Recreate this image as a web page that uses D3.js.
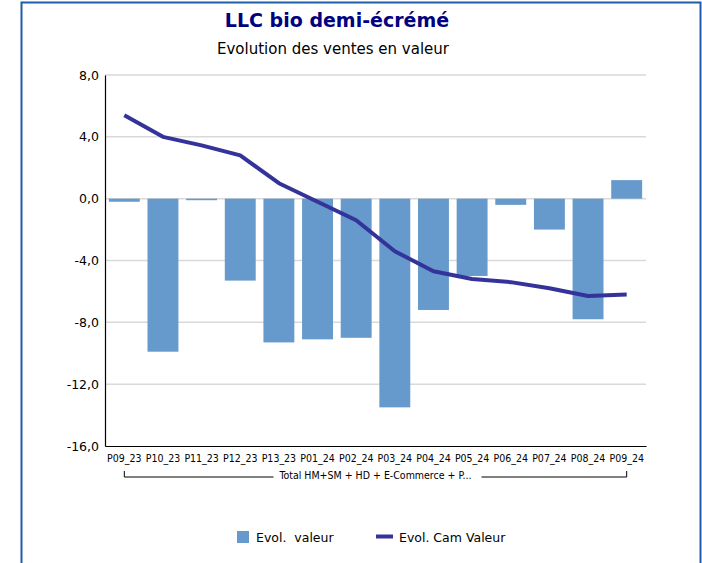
<!DOCTYPE html>
<html>
<head>
<meta charset="utf-8">
<script src="https://cdn.jsdelivr.net/npm/d3@7"></script>
<style>
  body { margin: 0; background: #fff; }
</style>
</head>
<body>
<div id="viz-container"></div>
<script>
// chart values
let periods = ["P09_23","P10_23","P11_23","P12_23","P13_23","P01_24","P02_24","P03_24","P04_24","P05_24","P06_24","P07_24","P08_24","P09_24"];
let evolValeur = [-0.2, -9.9, -0.1, -5.3, -9.3, -9.1, -9.0, -13.5, -7.2, -5.0, -0.4, -2.0, -7.8, 1.2];
let evolCam = [5.4, 4.0, 3.45, 2.8, 1.0, -0.2, -1.4, -3.4, -4.7, -5.2, -5.4, -5.8, -6.3, -6.2];
let yTicks = [8, 4, 0, -4, -8, -12, -16];
let groupLabel = "Total HM+SM + HD + E-Commerce + P...";
let titleText = "LLC bio demi-écrémé";
let subtitleText = "Evolution des ventes en valeur";
let seriesNames = ["Evol.  valeur", "Evol. Cam Valeur"];

let barColor = "#6699cc";
let lineColor = "#333399";
let font = "'DejaVu Sans', sans-serif";
let condFont = "'DejaVu Sans Condensed', 'DejaVu Sans', sans-serif";

let viz = d3.select("#viz-container")
  .append("svg")
    .attr("width", 702)
    .attr("height", 563);

// outer frame
viz.append("rect")
  .attr("x", 21.5)
  .attr("y", 2.5)
  .attr("width", 679)
  .attr("height", 620)
  .attr("fill", "none")
  .attr("stroke", "#1f5ca6")
  .attr("stroke-width", 2);

viz.append("text")
  .text(titleText)
  .attr("x", 337)
  .attr("y", 27)
  .attr("text-anchor", "middle")
  .attr("font-family", font)
  .attr("font-weight", "bold")
  .attr("font-size", 19)
  .attr("fill", "#000080");

viz.append("text")
  .text(subtitleText)
  .attr("x", 333)
  .attr("y", 54)
  .attr("text-anchor", "middle")
  .attr("font-family", font)
  .attr("font-size", 15)
  .attr("fill", "#000");

let x = d3.scaleBand()
  .domain(periods)
  .range([105, 646])
  .paddingInner(0.2)
  .paddingOuter(0.1);

let y = d3.scaleLinear()
  .domain([-16, 8])
  .range([446, 75]);

// gridlines
viz.selectAll(".grid").data(yTicks.filter(d => d != -16)).enter()
  .append("line")
    .attr("class", "grid")
    .attr("x1", 105)
    .attr("x2", 646)
    .attr("y1", d => y(d))
    .attr("y2", d => y(d))
    .attr("stroke", "#d9d9d9")
    .attr("stroke-width", 1.5);

// y axis
let yAxis = viz.append("g")
  .attr("transform", "translate(105,0)")
  .call(d3.axisLeft(y).tickValues(yTicks).tickSize(0).tickPadding(6)
    .tickFormat(d => d3.format(".1f")(d).replace(".", ",").replace("−", "-")));
yAxis.select(".domain").attr("stroke", "#000").attr("stroke-width", 1.2);
yAxis.selectAll("text")
  .attr("font-family", font)
  .attr("font-size", 12.5)
  .attr("fill", "#000");

// bars
viz.selectAll(".bar").data(evolValeur).enter()
  .append("rect")
    .attr("class", "bar")
    .attr("x", (d, i) => x(periods[i]))
    .attr("width", x.bandwidth())
    .attr("y", d => y(Math.max(0, d)))
    .attr("height", d => Math.abs(y(d) - y(0)))
    .attr("fill", barColor);

// x axis
let xAxis = viz.append("g")
  .attr("transform", "translate(0,446)")
  .call(d3.axisBottom(x).tickSize(0).tickPadding(9));
xAxis.select(".domain").attr("stroke", "#000").attr("stroke-width", 1.2);
xAxis.selectAll("text")
  .attr("font-family", condFont)
  .attr("font-size", 10.5)
  .attr("fill", "#000");

// group bracket under the category labels
let gx1 = x(periods[0]) + x.bandwidth() / 2;
let gx2 = x(periods[periods.length - 1]) + x.bandwidth() / 2;
let gmid = (gx1 + gx2) / 2;
let bracket = viz.append("g");
let glabel = bracket.append("text")
  .text(groupLabel)
  .attr("x", gmid)
  .attr("y", 479)
  .attr("text-anchor", "middle")
  .attr("font-family", condFont)
  .attr("font-size", 10.5)
  .attr("fill", "#000");
let gw = glabel.node().getComputedTextLength();
bracket.append("path")
  .attr("d", "M" + gx1 + ",471V477H" + (gmid - gw / 2 - 6)
    + "M" + (gmid + gw / 2 + 10) + ",477H" + gx2 + "V471")
  .attr("fill", "none")
  .attr("stroke", "#000")
  .attr("stroke-width", 1);

// cumulative line
let line = d3.line()
  .x((d, i) => x(periods[i]) + x.bandwidth() / 2)
  .y(d => y(d));

viz.append("path")
  .datum(evolCam)
  .attr("d", line)
  .attr("fill", "none")
  .attr("stroke", lineColor)
  .attr("stroke-width", 4)
  .attr("stroke-linejoin", "round");

// legend
viz.append("rect")
  .attr("x", 237)
  .attr("y", 531)
  .attr("width", 12)
  .attr("height", 12)
  .attr("fill", barColor);
viz.append("text")
  .text(seriesNames[0])
  .attr("x", 256)
  .attr("y", 541.5)
  .attr("font-family", font)
  .attr("font-size", 12.5)
  .style("white-space", "pre")
  .attr("fill", "#000");
viz.append("line")
  .attr("x1", 376)
  .attr("x2", 393)
  .attr("y1", 536.5)
  .attr("y2", 536.5)
  .attr("stroke", lineColor)
  .attr("stroke-width", 4);
viz.append("text")
  .text(seriesNames[1])
  .attr("x", 399)
  .attr("y", 541.5)
  .attr("font-family", font)
  .attr("font-size", 12.5)
  .attr("fill", "#000");
</script>
</body>
</html>
